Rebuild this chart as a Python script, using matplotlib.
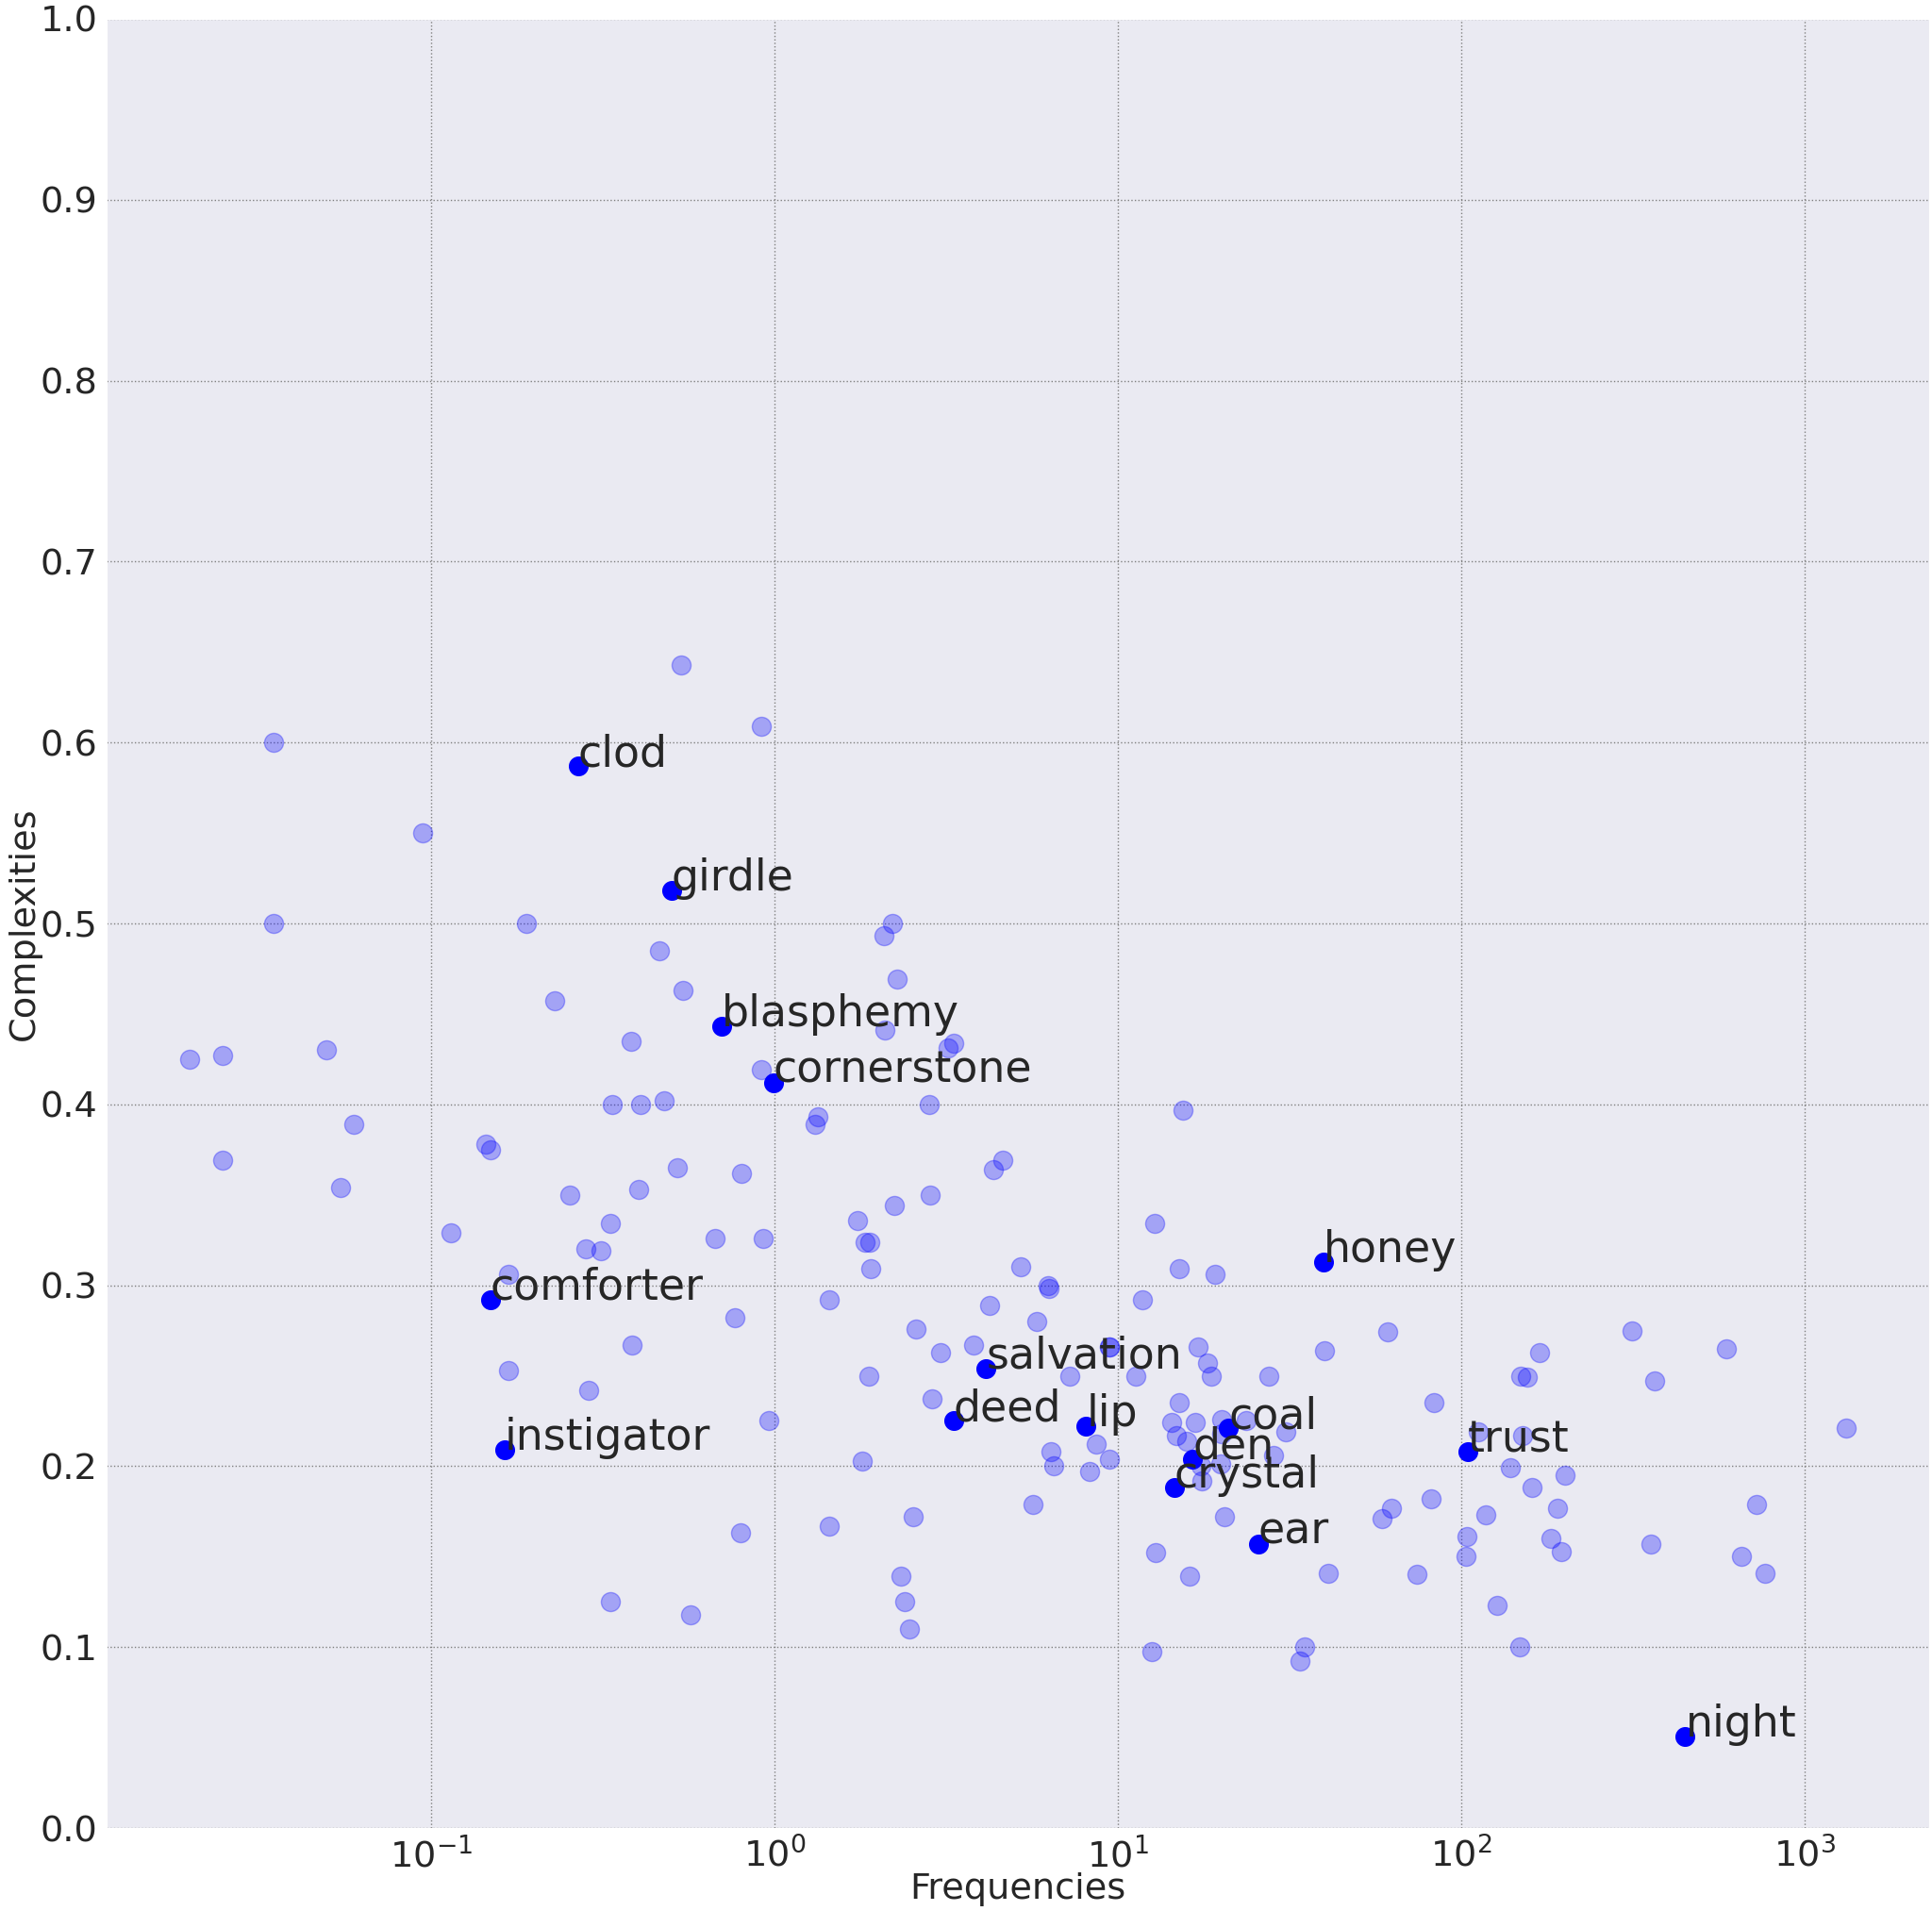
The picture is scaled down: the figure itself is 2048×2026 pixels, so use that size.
import matplotlib
matplotlib.use("Agg")
import matplotlib.pyplot as plt
import seaborn as sns

# background words (frequency, complexity)
freqs = [0.536, 0.0347, 0.0943, 0.0347, 0.189, 0.462, 0.541, 0.229, 0.383, 0.0198,
         0.0248, 0.0497, 0.337, 0.407, 0.477, 0.0595, 0.144, 0.149, 0.522, 0.0248,
         0.0546, 0.253, 0.402, 0.332, 0.114, 0.671, 0.283, 0.312, 0.168, 0.386,
         0.168, 0.288, 0.332, 0.570, 0.916, 2.21, 2.08, 2.28, 2.10, 3.32,
         3.21, 0.916, 2.82, 1.34, 1.31, 15.5, 0.804, 4.62, 4.33, 2.85,
         2.24, 1.75, 12.8, 0.925, 1.84, 1.90, 1.91, 5.20, 15.1, 19.2,
         6.27, 6.31, 1.44, 11.8, 0.766, 4.22, 5.81, 2.58, 3.80, 3.04,
         9.43, 9.43, 17.1, 18.2, 18.7, 1.88, 7.24, 11.3, 27.5, 2.87,
         15.1, 0.964, 14.3, 16.8, 20.0, 23.6, 14.8, 15.9, 20.1, 30.9,
         8.66, 6.37, 6.50, 9.46, 8.26, 1.80, 28.4, 17.5, 19.9, 17.6,
         5.65, 20.5, 0.798, 1.44, 2.54, 12.9, 16.2, 2.34, 2.40, 2.47,
         12.6, 39.9, 61.2, 83.5, 169, 149, 156, 315, 366, 590,
         112, 151, 1322, 139, 200, 161, 62.6, 58.6, 81.7, 118,
         191, 104, 103, 182, 195, 724, 357, 654, 766, 41.1,
         74.2, 127, 148, 35.0, 33.9]
comps = [0.643, 0.600, 0.550, 0.500, 0.500, 0.485, 0.463, 0.457, 0.435, 0.425,
         0.427, 0.430, 0.400, 0.400, 0.402, 0.389, 0.378, 0.375, 0.365, 0.369,
         0.354, 0.350, 0.353, 0.334, 0.329, 0.326, 0.320, 0.319, 0.306, 0.267,
         0.253, 0.242, 0.125, 0.118, 0.609, 0.500, 0.493, 0.469, 0.441, 0.434,
         0.431, 0.419, 0.400, 0.393, 0.389, 0.397, 0.362, 0.369, 0.364, 0.350,
         0.344, 0.336, 0.334, 0.326, 0.324, 0.324, 0.309, 0.310, 0.309, 0.306,
         0.300, 0.298, 0.292, 0.292, 0.282, 0.289, 0.280, 0.276, 0.267, 0.263,
         0.266, 0.266, 0.266, 0.257, 0.250, 0.250, 0.250, 0.250, 0.250, 0.237,
         0.235, 0.225, 0.224, 0.224, 0.226, 0.225, 0.217, 0.214, 0.218, 0.219,
         0.212, 0.208, 0.200, 0.204, 0.197, 0.203, 0.206, 0.200, 0.201, 0.192,
         0.179, 0.172, 0.163, 0.167, 0.172, 0.152, 0.139, 0.139, 0.125, 0.110,
         0.0975, 0.264, 0.274, 0.235, 0.263, 0.250, 0.249, 0.275, 0.247, 0.265,
         0.219, 0.217, 0.221, 0.199, 0.195, 0.188, 0.177, 0.171, 0.182, 0.173,
         0.177, 0.161, 0.150, 0.160, 0.153, 0.179, 0.157, 0.150, 0.141, 0.141,
         0.140, 0.123, 0.100, 0.100, 0.0924]

# highlighted words
words = ["clod", "girdle", "blasphemy", "cornerstone", "comforter", "instigator",
         "salvation", "deed", "lip", "coal", "den", "crystal", "ear", "honey",
         "trust", "night"]
word_freqs = [0.268, 0.502, 0.702, 0.992, 0.149, 0.164,
              4.13, 3.32, 8.08, 21.0, 16.5, 14.6, 25.6, 39.7,
              104.5, 449]
word_comps = [0.587, 0.518, 0.443, 0.412, 0.292, 0.209,
              0.254, 0.225, 0.222, 0.221, 0.204, 0.188, 0.157, 0.313,
              0.208, 0.0504]

sns.set_style("darkgrid")
plt.rcParams['font.family'] = ['DejaVu Sans']

fig, ax = plt.subplots(figsize=(20.48, 20.26), dpi=100)
fig.subplots_adjust(left=113 / 2048, right=2045 / 2048,
                    top=1 - 20 / 2026, bottom=1 - 1938 / 2026)

ax.scatter(freqs, comps, s=210, color='blue', alpha=0.3)
ax.scatter(word_freqs, word_comps, s=200, color='blue')
for w, fx, cy in zip(words, word_freqs, word_comps):
    ax.text(fx, cy, w, fontsize=33, color='#262626')

ax.set_xscale('log')
ax.set_ylim(0, 1)
ax.set_yticks([i / 10 for i in range(11)])
ax.grid(which='major', color='grey', linestyle=':', linewidth=1)

ax.set_xlabel("Frequencies", fontsize=27.5, labelpad=-2)
ax.set_ylabel("Complexities", fontsize=27.5, labelpad=-1)
ax.tick_params(labelsize=27.5)

fig.savefig("out.png", dpi=100)
